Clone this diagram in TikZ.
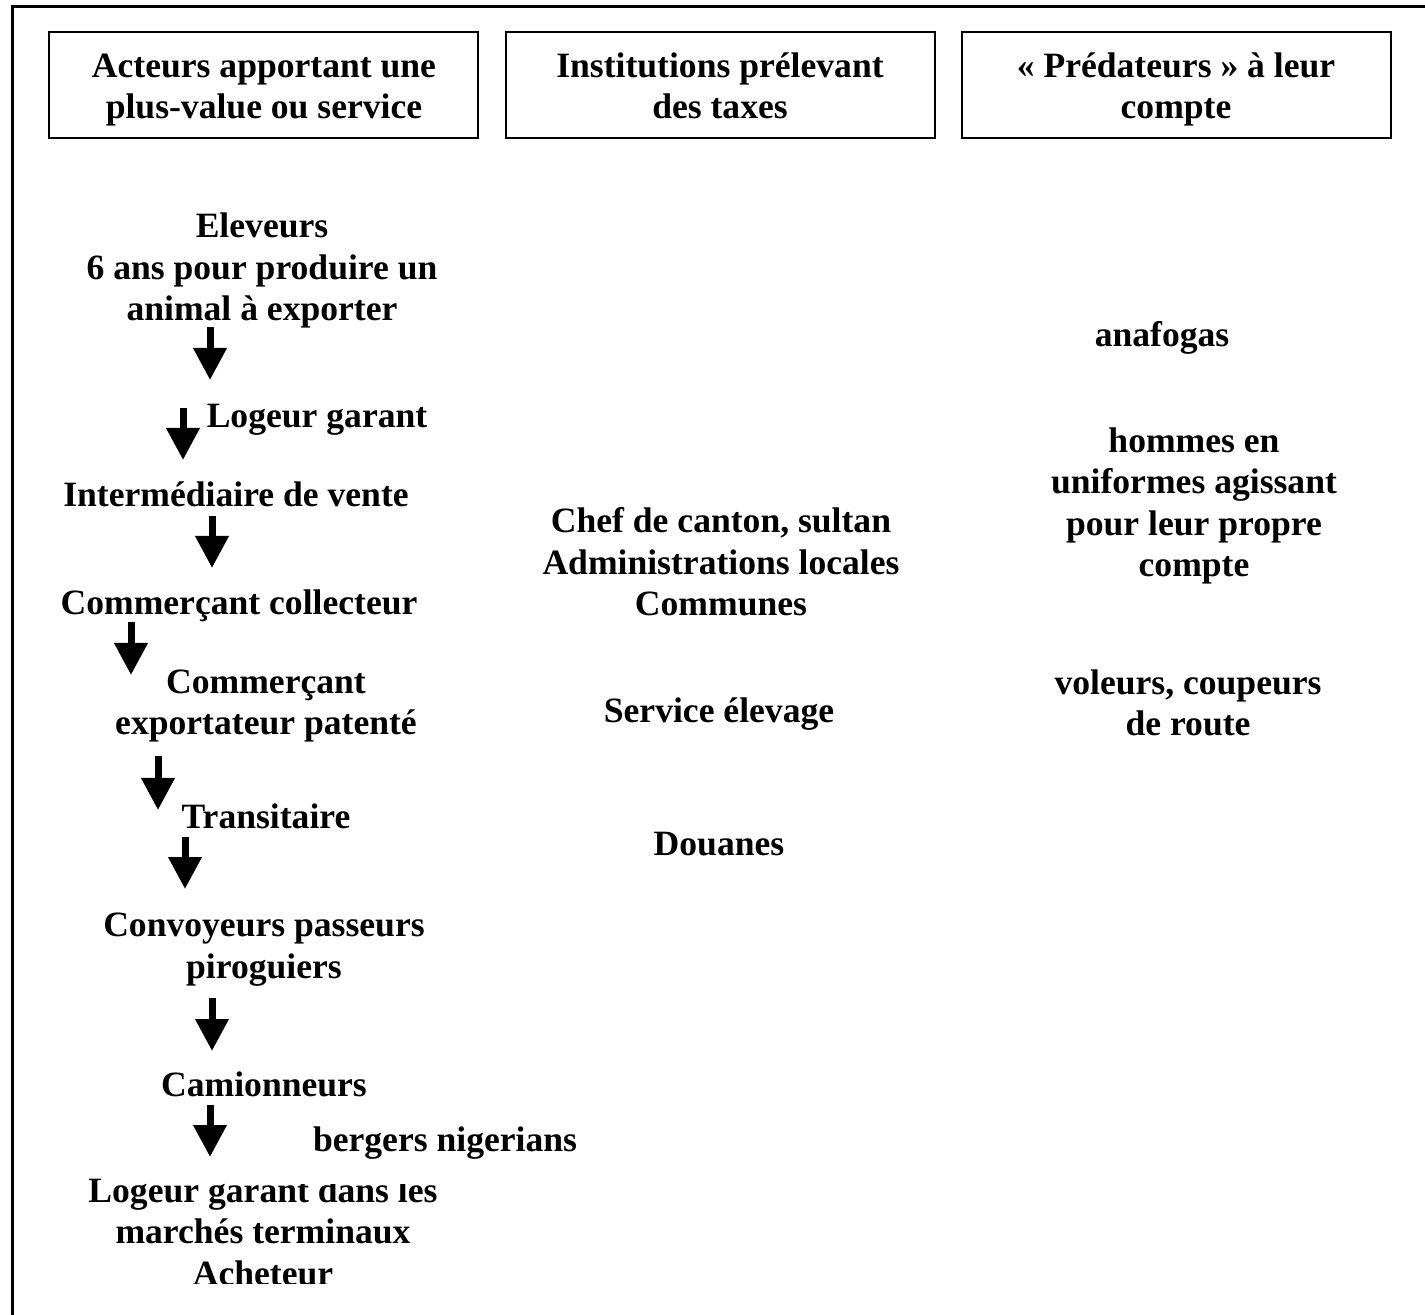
\documentclass[tikz,border=0pt]{standalone}
\usepackage{fontspec}
\setmainfont{Liberation Serif}
\usetikzlibrary{arrows.meta}
\begin{document}
\begin{tikzpicture}[x=0.5pt,y=-0.5pt,
  txt/.style={font=\fontsize{17.8pt}{20.75pt}\selectfont\bfseries, align=center, inner sep=0pt, anchor=base},
  hbox/.style={draw, line width=1pt, minimum width=214.5pt, minimum height=53pt, inner sep=0pt},
  bigarrow/.style={line width=3.5pt, -{Triangle[width=16pt,length=16pt]}},
  frame/.style={line width=1.5pt}]
\useasboundingbox (0,0) rectangle (1425,1315);
% outer frame (top and left only)
\coordinate (fbl) at (12,1315);
\coordinate (ftl) at (12,7);
\coordinate (ftr) at (1425,7);
\draw[frame] (fbl) -- (ftl) -- (ftr);
% headers
\node[hbox] (hb1) at (263.5,85) {};
\node[hbox] (hb2) at (720,85) {};
\node[hbox] (hb3) at (1176,85) {};
\node[txt] (h1) at (264,119) {Acteurs apportant une\\plus-value ou service};
\node[txt] (h2) at (720,119) {Institutions prélevant\\des taxes};
\node[txt] (h3) at (1176,119) {«~Prédateurs~» à leur\\compte};
% left column (base = last line baseline)
\node[txt] (n1) at (262,321) {Eleveurs\\6 ans pour produire un\\animal à exporter};
\node[txt] (n2) at (317,427.5) {Logeur garant};
\node[txt] (n3) at (236,506.5) {Intermédiaire de vente};
\node[txt] (n4) at (239,614.5) {Commerçant collecteur};
\node[txt] (n5) at (266,735) {Commerçant\\exportateur patenté};
\node[txt] (n6) at (266,828.5) {Transitaire};
\node[txt] (n7) at (264,978) {Convoyeurs passeurs\\piroguiers};
\node[txt] (n8) at (264,1096.5) {Camionneurs};
\begin{scope}
\clip (0,1100) rectangle (1425,1283);
\node[txt] (n10) at (263,1285) {Logeur garant dans les\\marchés terminaux\\Acheteur};
\end{scope}
\fill[white] (298,1120) rectangle (600,1184);
\node[txt] (n9) at (445,1151.5) {bergers nigerians};
% middle column
\node[txt] (m1) at (721,616) {Chef de canton, sultan\\Administrations locales\\Communes};
\node[txt] (m2) at (719,722.5) {Service élevage};
\node[txt] (m3) at (719,855.5) {Douanes};
% right column
\node[txt] (r1) at (1162,346.5) {anafogas};
\node[txt] (r2) at (1194,577) {hommes en\\uniformes agissant\\pour leur propre\\compte};
\node[txt] (r3) at (1188,736) {voleurs, coupeurs\\de route};
% arrows
\coordinate (a1s) at (210,327);  \coordinate (a1e) at (210,380);
\coordinate (a2s) at (183,408);  \coordinate (a2e) at (183,460);
\coordinate (a3s) at (212,516);  \coordinate (a3e) at (212,568);
\coordinate (a4s) at (131,622);  \coordinate (a4e) at (131,675);
\coordinate (a5s) at (158,756);  \coordinate (a5e) at (158,810);
\coordinate (a6s) at (185,837);  \coordinate (a6e) at (185,889);
\coordinate (a7s) at (212,998);  \coordinate (a7e) at (212,1051);
\coordinate (a8s) at (210,1105); \coordinate (a8e) at (210,1157);
\foreach \i in {1,...,8} { \draw[bigarrow] (a\i s) -- (a\i e); }
\end{tikzpicture}
\end{document}
